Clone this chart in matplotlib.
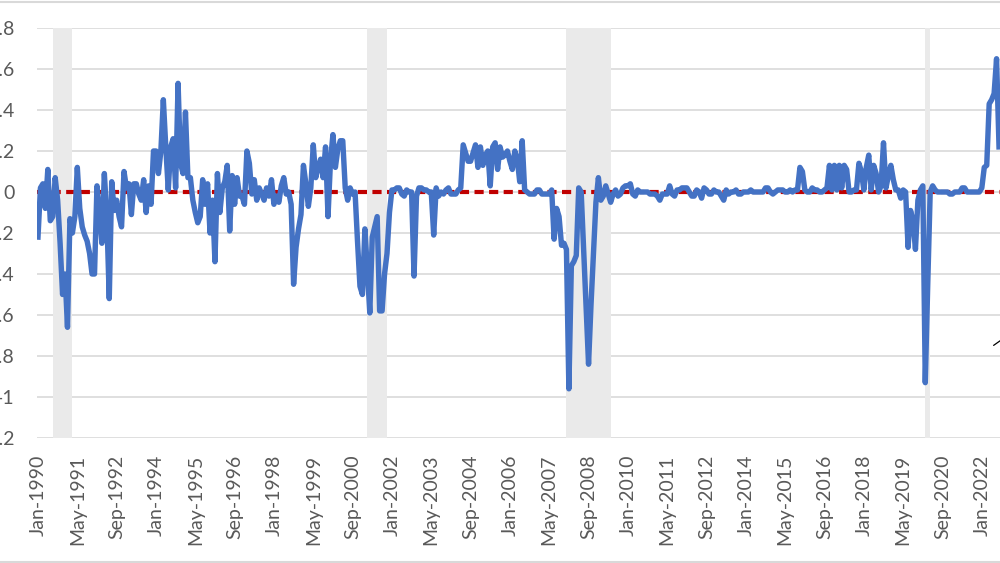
import numpy as np
import pandas as pd
import matplotlib
matplotlib.use('Agg')
import matplotlib.pyplot as plt
from matplotlib.lines import Line2D

plt.rcParams['font.family'] = ['Lato', 'DejaVu Sans']
plt.rcParams['axes.unicode_minus'] = False

# monthly values, Jan-1990 onwards
v1990s = [-0.22, 0.02, 0.04, -0.08, 0.11, -0.14, -0.12, 0.07, -0.04, -0.25, -0.50, -0.40,
          -0.66, -0.13, -0.20, -0.12, 0.12, -0.08, -0.17, -0.21, -0.24, -0.30, -0.40, -0.40,
          0.03, -0.10, -0.25, 0.09, -0.12, -0.52, 0.05, -0.09, -0.04, -0.12, -0.17, 0.10,
          0.02, 0.04, -0.11, 0.04, 0.04, -0.01, -0.04, 0.06, -0.10, 0.03, -0.06, 0.20,
          0.20, 0.09, 0.20, 0.45, 0.22, 0.01, 0.22, 0.26, 0.02, 0.53, 0.14, 0.09,
          0.39, 0.07, 0.07, -0.04, -0.10, -0.15, -0.12, 0.06, -0.06, 0.04, -0.20, -0.04,
          -0.34, 0.09, -0.10, 0.02, 0.05, 0.13, -0.19, 0.08, -0.06, 0.07, -0.02, -0.02,
          -0.06, 0.20, 0.14, -0.01, 0.06, -0.04, 0.02, -0.01, -0.04, 0.02, -0.02, 0.06,
          -0.06, -0.02, -0.05, 0.03, 0.07, -0.01, 0.00, -0.06, -0.45, -0.27, -0.18, -0.11,
          0.13, 0.04, -0.07, 0.02, 0.23, 0.07, 0.12, 0.16, 0.07, 0.22, -0.12, 0.15]
v2000s = [0.28, 0.12, 0.21, 0.25, 0.25, 0.02, -0.04, 0.02, -0.01, 0.00, -0.24, -0.46,
          -0.50, -0.18, -0.38, -0.59, -0.22, -0.17, -0.12, -0.58, -0.58, -0.40, -0.30, -0.10,
          0.01, 0.01, 0.02, 0.02, -0.01, -0.02, 0.01, 0.00, 0.00, -0.41, -0.02, 0.02,
          0.02, 0.01, 0.01, 0.00, 0.00, -0.21, 0.02, -0.02, 0.00, -0.01, 0.01, 0.02,
          -0.01, -0.01, -0.01, 0.01, 0.02, 0.23, 0.19, 0.15, 0.15, 0.19, 0.23, 0.12,
          0.22, 0.13, 0.18, 0.20, 0.03, 0.22, 0.24, 0.11, 0.22, 0.17, 0.18, 0.20,
          0.15, 0.11, 0.20, 0.16, 0.05, 0.25, 0.01, 0.00, -0.01, -0.01, -0.01, 0.01,
          0.01, -0.01, -0.01, -0.01, -0.01, 0.01, -0.23, -0.08, -0.12, -0.26, -0.25, -0.28,
          -0.96, -0.36, -0.34, -0.31, 0.02, 0.00, -0.28, -0.56, -0.84, -0.55, -0.30, -0.05,
          0.07, -0.04, -0.02, 0.03, -0.01, -0.05, -0.01, 0.01, -0.02, -0.01, 0.02, 0.03]
v2010s = [0.03, 0.04, -0.01, -0.02, 0.01, 0.00, 0.00, 0.00, 0.00, -0.01, -0.01, -0.01,
          -0.02, -0.04, -0.01, -0.01, -0.01, 0.03, -0.01, -0.02, 0.01, 0.01, 0.02, 0.02,
          0.02, 0.00, -0.02, -0.02, 0.01, 0.00, -0.03, 0.02, 0.01, -0.01, -0.01, 0.01,
          0.00, 0.00, -0.02, -0.04, 0.01, -0.01, 0.00, 0.00, 0.01, -0.01, -0.01, 0.00,
          0.00, 0.00, 0.01, 0.00, 0.00, 0.00, 0.00, 0.00, 0.02, 0.02, 0.00, -0.01,
          0.00, 0.01, 0.01, 0.01, 0.00, 0.00, 0.01, 0.00, 0.01, 0.01, 0.12, 0.10,
          0.01, 0.00, 0.00, 0.02, 0.01, 0.01, 0.00, 0.00, 0.01, 0.02, 0.13, 0.01,
          0.13, 0.01, 0.13, 0.02, 0.13, 0.11, 0.00, 0.00, 0.01, 0.01, 0.14, 0.10,
          0.01, 0.12, 0.18, 0.01, 0.13, 0.09, 0.00, 0.03, 0.24, 0.02, 0.08, 0.13,
          0.06, 0.01, 0.01, -0.03, 0.01, 0.00, -0.27, -0.09, -0.14, -0.28, -0.04, 0.01]
v2020s = [0.03, -0.93, -0.45, 0.00, 0.03, 0.01, 0.00, 0.00, 0.00, 0.00, 0.00, -0.01,
          -0.01, 0.00, 0.00, 0.00, 0.02, 0.02, 0.00, 0.00, 0.00, 0.00, 0.00, 0.00,
          0.02, 0.12, 0.13, 0.43, 0.45, 0.48, 0.65, 0.22]

recessions = [('1990-07', '1991-03'), ('2001-03', '2001-11'),
              ('2007-12', '2009-06'), ('2020-02', '2020-04')]

y_ticks = [-1.2, -1.0, -0.8, -0.6, -0.4, -0.2, 0.0, 0.2, 0.4, 0.6, 0.8]
y_labels = ['-1.2', '-1', '-0.8', '-0.6', '-0.4', '-0.2', '0', '0.2', '0.4', '0.6', '0.8']

values = np.array(v1990s + v2000s + v2010s + v2020s)
dates = pd.date_range('1990-01-01', periods=len(values), freq='MS')
x = np.arange(len(values))


def month_index(s):
    d = pd.Timestamp(s)
    return (d.year - 1990) * 12 + d.month - 1


fig = plt.figure(figsize=(10, 5.63), dpi=100)
ax = fig.add_axes([0.037, 1 - 438 / 563, 0.963, 410 / 563])

for start, end in recessions:
    ax.axvspan(month_index(start), month_index(end), color='#EAEAEA', lw=0, zorder=1)

ax.axhline(0, color='#C00000', lw=3.0, ls=(0, (2.2, 1.3)), zorder=2)
ax.plot(x, values, color='#4472C4', lw=3.9, zorder=3, solid_joinstyle='round')

ax.set_ylim(-1.2, 0.8)
ax.set_xlim(-0.4, 391.4)
ax.set_yticks(y_ticks)
ax.set_yticklabels(y_labels)
ax.set_xticks(x[::16])
ax.set_xticklabels(dates[::16].strftime('%b-%Y'))
ax.yaxis.grid(True, color='#D9D9D9', lw=1.2)
ax.set_axisbelow(True)
for s in ax.spines.values():
    s.set_visible(False)
ax.tick_params(axis='both', length=0, labelcolor='#595959', labelsize=14)
ax.tick_params(axis='y', pad=16)
ax.tick_params(axis='x', pad=12, labelrotation=90)

# piece of an annotation arrow running off the right edge
ax.annotate('', xy=(1.02, 0.27), xytext=(0.991, 0.222), xycoords='axes fraction',
            arrowprops=dict(arrowstyle='-', color='black', lw=0.9), annotation_clip=False)

# chart frame edges
for yy in [1 - 1.5 / 563, 1 - 561.5 / 563]:
    fig.add_artist(Line2D([0, 1], [yy, yy], transform=fig.transFigure, color='#D9D9D9', lw=1.5))

fig.savefig('out.png', dpi=100, facecolor='white')
